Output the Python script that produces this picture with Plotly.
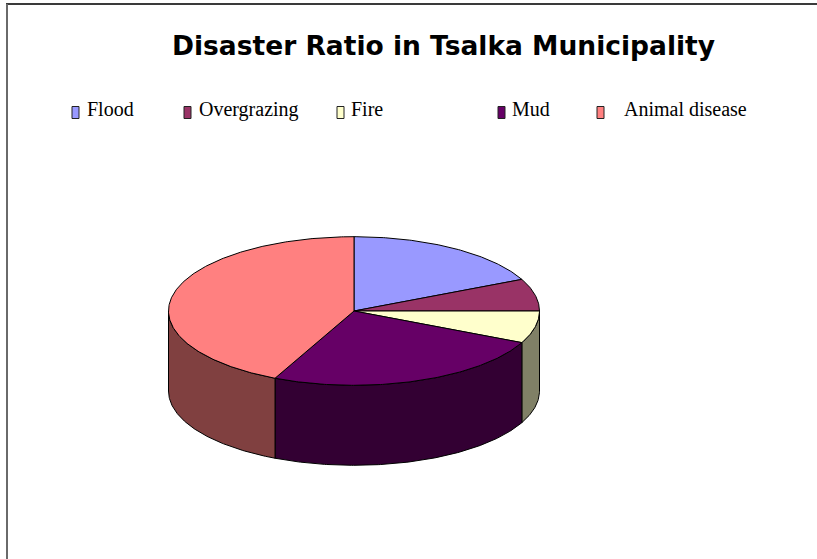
import numpy as np
import plotly.graph_objects as go

# Data
categories = ["Flood", "Overgrazing", "Fire", "Mud", "Animal disease"]
values = [18, 7, 7, 25, 43]

# Styles
top_colors = ["#9999FF", "#993366", "#FFFFCC", "#660066", "#FF8080"]
side_colors = ["#4D4D80", "#4D1A33", "#808066", "#330033", "#804040"]

W, H = 817, 559

# Pie geometry (pixel space)
CX, CY = 354.0, 311.0
RX, RY = 185.5, 74.3
DEPTH = 80.0


def arc(t1, t2, dy=0.0, n=None):
    n = n or max(3, int(abs(t2 - t1) * 90))
    t = np.linspace(t1, t2, n)
    return CX + RX * np.sin(t), CY - RY * np.cos(t) + dy


fig = go.Figure()

total = float(sum(values))
bounds = np.concatenate([[0.0], np.cumsum(values) / total * 2 * np.pi])

# Side walls (only the front half, angles between 90 and 270 degrees, is visible)
for i, name in enumerate(categories):
    t1, t2 = bounds[i], bounds[i + 1]
    s1, s2 = max(t1, np.pi / 2), min(t2, 3 * np.pi / 2)
    if s2 <= s1:
        continue
    xt, yt = arc(s1, s2)
    xb, yb = arc(s1, s2, DEPTH)
    xs = np.concatenate([xt, xb[::-1], xt[:1]])
    ys = np.concatenate([yt, yb[::-1], yt[:1]])
    fig.add_trace(go.Scatter(x=xs, y=ys, mode="lines", fill="toself",
                             fillcolor=side_colors[i],
                             line=dict(color="black", width=1),
                             hoverinfo="skip", showlegend=False))

# Top faces
for i, name in enumerate(categories):
    t1, t2 = bounds[i], bounds[i + 1]
    xa, ya = arc(t1, t2)
    xs = np.concatenate([[CX], xa, [CX]])
    ys = np.concatenate([[CY], ya, [CY]])
    fig.add_trace(go.Scatter(x=xs, y=ys, mode="lines", fill="toself",
                             fillcolor=top_colors[i],
                             line=dict(color="black", width=1),
                             name=name, hoverinfo="name", showlegend=False))

# Legend row
legend_box_x = [72, 184, 337, 498, 597]
legend_text_x = [85, 197, 349, 510, 622]
shapes = []
annotations = []
for i, name in enumerate(categories):
    shapes.append(dict(type="rect", xref="x", yref="y",
                       x0=legend_box_x[i], x1=legend_box_x[i] + 7,
                       y0=106.5, y1=118.5,
                       fillcolor=top_colors[i],
                       line=dict(color="#222222", width=1)))
    annotations.append(dict(x=legend_text_x[i], y=109, xref="x", yref="y",
                            text=name, showarrow=False,
                            xanchor="left", yanchor="middle",
                            font=dict(family="Liberation Serif", size=20,
                                      color="black")))

# Title
annotations.append(dict(x=443, y=45, xref="x", yref="y",
                        text="<b>Disaster Ratio in Tsalka Municipality</b>",
                        showarrow=False, xanchor="center", yanchor="middle",
                        font=dict(family="DejaVu Sans", size=26.5,
                                  color="black")))

# Chart frame (top and left edges)
shapes.append(dict(type="line", xref="x", yref="y", x0=6, x1=W, y0=4, y1=4,
                   line=dict(color="#3a3a3a", width=2)))
shapes.append(dict(type="line", xref="x", yref="y", x0=7, x1=7, y0=4, y1=H,
                   line=dict(color="#6a6a6a", width=2)))

fig.update_layout(
    width=W, height=H,
    margin=dict(l=0, r=0, t=0, b=0),
    paper_bgcolor="white", plot_bgcolor="white",
    xaxis=dict(range=[0, W], visible=False, fixedrange=True),
    yaxis=dict(range=[H, 0], visible=False, fixedrange=True),
    shapes=shapes, annotations=annotations,
    showlegend=False,
)

fig.write_html("out.html")
